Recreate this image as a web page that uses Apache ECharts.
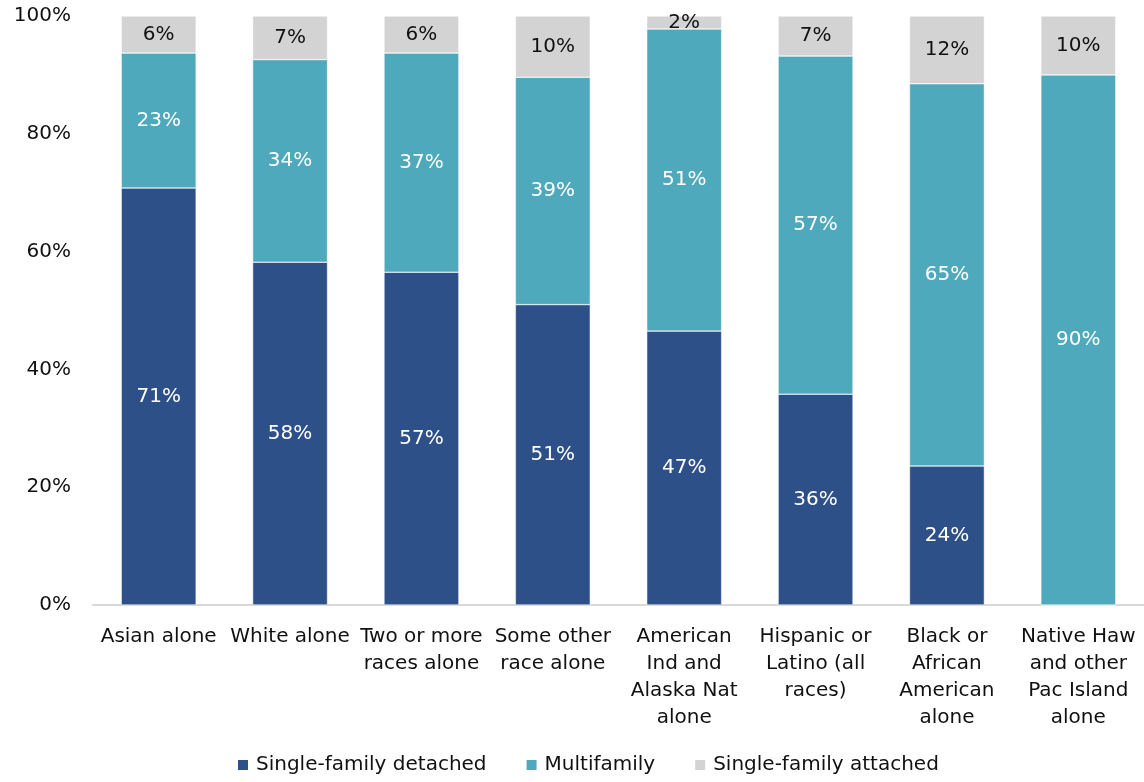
<!DOCTYPE html>
<html>
<head>
<meta charset="utf-8">
<script src="https://cdn.jsdelivr.net/npm/echarts@6/dist/echarts.min.js"></script>
<style>
  html, body { margin: 0; padding: 0; background: #fff; }
  #chart { width: 1144px; height: 782px; }
</style>
</head>
<body>
<div id="chart"></div>
<script>
// Housing type shares by race/ethnicity (percent of households)
const categories = [
  'Asian alone',
  'White alone',
  'Two or more\nraces alone',
  'Some other\nrace alone',
  'American\nInd and\nAlaska Nat\nalone',
  'Hispanic or\nLatino (all\nraces)',
  'Black or\nAfrican\nAmerican\nalone',
  'Native Haw\nand other\nPac Island\nalone'
];
const singleDetached = [70.8, 58.2, 56.5, 51.0, 46.5, 35.8, 23.6, 0];
const multifamily    = [22.9, 34.4, 37.2, 38.6, 51.3, 57.4, 64.9, 90.0];
const singleAttached = [6.3, 7.4, 6.3, 10.4, 2.2, 6.8, 11.5, 10.0];
const yTicks = [0, 20, 40, 60, 80, 100];

const FONT = 'DejaVu Sans';
const FS = 20;
const pctLabel = (color) => ({
  show: true,
  position: 'inside',
  color: color,
  fontFamily: FONT,
  fontSize: FS,
  formatter: (p) => (p.value > 0 ? Math.round(p.value) + '%' : '')
});

const chart = echarts.init(document.getElementById('chart'));
chart.setOption({
  animation: false,
  textStyle: { fontFamily: FONT },
  grid: { left: 93, right: 0, top: 16, bottom: 177, containLabel: false },
  legend: {
    bottom: 2,
    left: 231,
    itemWidth: 12,
    itemHeight: 12,
    itemGap: 38,
    icon: 'rect',
    textStyle: { fontFamily: FONT, fontSize: FS, color: '#111', padding: [0, 0, 0, 2] },
    data: ['Single-family detached', 'Multifamily', 'Single-family attached']
  },
  xAxis: {
    type: 'category',
    data: categories,
    axisLine: { show: true, lineStyle: { color: '#d9d9d9', width: 2 } },
    axisTick: { show: false },
    axisLabel: {
      color: '#111',
      fontFamily: FONT,
      fontSize: FS,
      lineHeight: 27,
      margin: 18,
      interval: 0
    }
  },
  yAxis: {
    type: 'value',
    min: yTicks[0],
    max: yTicks[yTicks.length - 1],
    interval: 20,
    splitLine: { show: false },
    axisLine: { show: false },
    axisTick: { show: false },
    axisLabel: {
      color: '#111',
      fontFamily: FONT,
      fontSize: FS,
      margin: 22,
      formatter: (v) => v + '%'
    }
  },
  series: [
    {
      name: 'Single-family detached',
      type: 'bar',
      stack: 'total',
      barWidth: '57%',
      data: singleDetached,
      itemStyle: { color: '#2E5089', borderColor: '#fff', borderWidth: 0.5 },
      label: pctLabel('#fff')
    },
    {
      name: 'Multifamily',
      type: 'bar',
      stack: 'total',
      data: multifamily,
      itemStyle: { color: '#4EA9BD', borderColor: '#fff', borderWidth: 0.5 },
      label: pctLabel('#fff')
    },
    {
      name: 'Single-family attached',
      type: 'bar',
      stack: 'total',
      data: singleAttached,
      itemStyle: { color: '#D3D3D3', borderColor: '#fff', borderWidth: 0.5 },
      label: pctLabel('#111')
    }
  ]
});
</script>
</body>
</html>
